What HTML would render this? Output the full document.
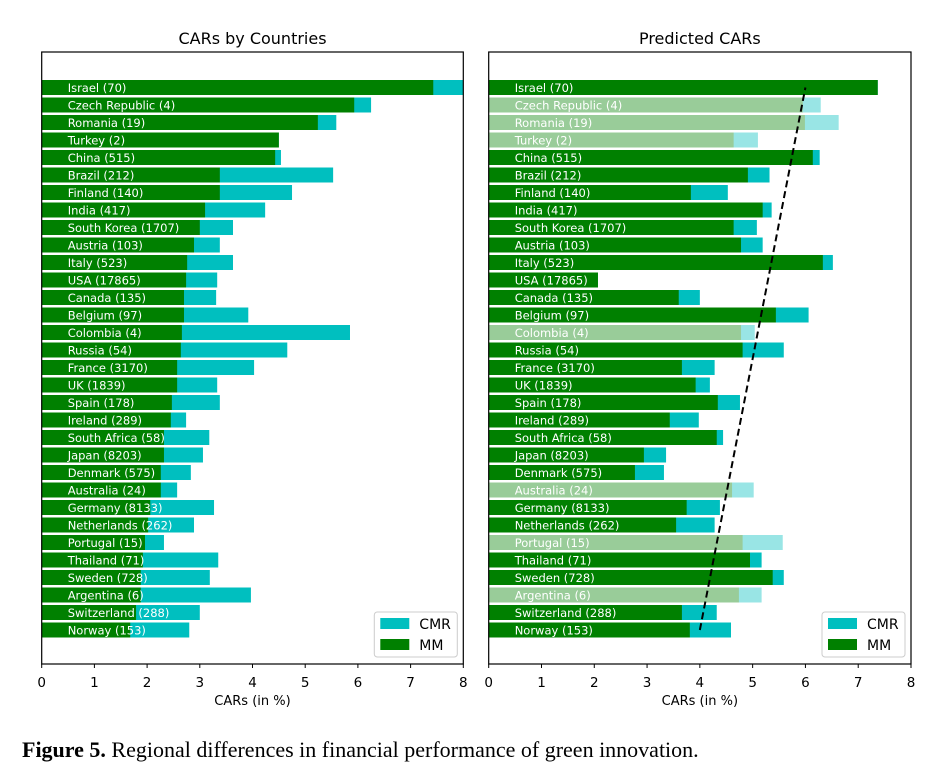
<!DOCTYPE html>
<html><head><meta charset="utf-8"><style>
body{margin:0;background:#fff;width:935px;height:776px;overflow:hidden}
svg{display:block;font-family:"DejaVu Sans","Liberation Sans",sans-serif}
</style></head><body>
<svg id="chart" width="935" height="776" viewBox="0 0 935 776" xmlns="http://www.w3.org/2000/svg">
<text x="22" y="757" font-family="Liberation Serif, serif" font-size="22"><tspan font-weight="bold">Figure 5.</tspan> Regional differences in financial performance of green innovation.</text>
</svg>
<script>
const countries=["Israel (70)","Czech Republic (4)","Romania (19)","Turkey (2)","China (515)","Brazil (212)","Finland (140)","India (417)","South Korea (1707)","Austria (103)","Italy (523)","USA (17865)","Canada (135)","Belgium (97)","Colombia (4)","Russia (54)","France (3170)","UK (1839)","Spain (178)","Ireland (289)","South Africa (58)","Japan (8203)","Denmark (575)","Australia (24)","Germany (8133)","Netherlands (262)","Portugal (15)","Thailand (71)","Sweden (728)","Argentina (6)","Switzerland (288)","Norway (153)"];
const leftMM=[7.43,5.93,5.24,4.50,4.43,3.38,3.38,3.10,3.00,2.89,2.76,2.74,2.70,2.70,2.66,2.64,2.57,2.57,2.47,2.45,2.32,2.32,2.26,2.26,2.06,2.02,1.96,1.92,1.88,1.88,1.79,1.68];
const leftCMR=[8.0,6.25,5.59,4.50,4.54,5.53,4.75,4.24,3.63,3.38,3.63,3.33,3.31,3.92,5.85,4.66,4.03,3.33,3.38,2.74,3.18,3.06,2.83,2.57,3.27,2.89,2.32,3.35,3.19,3.97,3.00,2.80];
const rightMM=[7.37,5.95,5.99,4.64,6.14,4.91,3.83,5.19,4.64,4.78,6.33,2.07,3.60,5.44,4.78,4.81,3.66,3.92,4.34,3.43,4.32,2.94,2.77,4.61,3.75,3.55,4.81,4.95,5.38,4.74,3.66,3.81];
const rightCMR=[7.37,6.29,6.63,5.10,6.27,5.32,4.53,5.36,5.08,5.19,6.52,2.07,4.00,6.06,5.04,5.59,4.28,4.19,4.76,3.98,4.44,3.36,3.32,5.02,4.38,4.28,5.57,5.17,5.59,5.17,4.32,4.59];
const rightFaded=[0,1,1,1,0,0,0,0,0,0,0,0,0,0,1,0,0,0,0,0,0,0,0,1,0,0,1,0,0,1,0,0];
const trendX=[4.0,6.0];
const xTicks=[0,1,2,3,4,5,6,7,8];
const NS="http://www.w3.org/2000/svg";
const svg=document.getElementById('chart');
function mk(tag,attrs,parent){const e=document.createElementNS(NS,tag);for(const k in attrs)e.setAttribute(k,attrs[k]);(parent||svg).appendChild(e);return e;}
const plotTop=52,plotBot=664,row0=87.5,rowStep=17.5,barH=15;
function yRow(i){return row0+i*rowStep;}
function panel(x0,x1,title,mm,cmr,faded,name,trend){
  const g=mk('g',{});
  
  
  const sx=v=>x0+(x1-x0)*v/8;
  const t=mk('text',{x:(x0+x1)/2,y:44,'text-anchor':'middle','font-size':16},g);t.textContent=title;
  
  
  countries.forEach((c,i)=>{
    const f=faded&&faded[i];
    const y=yRow(i)-barH/2;
    const rc=mk('rect',{x:sx(0),y:y,width:Math.max(0,sx(cmr[i])-sx(0)),height:barH,fill:f?'#99e5e5':'#00bfbf'},g);
    
    
    const rm=mk('rect',{x:sx(0),y:y,width:sx(mm[i])-sx(0),height:barH,fill:f?'#99cc99':'#008000'},g);
    
    
    const lt=mk('text',{x:x0+26,y:yRow(i)+4.5,'font-size':11.5,fill:'#fff'},g);lt.textContent=c;
    
    
  });
  if(trend){
    const ln=mk('line',{x1:sx(trend[0]),y1:yRow(31),x2:sx(trend[1]),y2:yRow(0),stroke:'#000','stroke-width':2,'stroke-dasharray':'7,4'},g);
    
    
  }
  const fr=mk('rect',{x:x0,y:plotTop,width:x1-x0,height:plotBot-plotTop,fill:'none',stroke:'#000','stroke-width':1.2},g);
  
  
  xTicks.forEach(v=>{
    mk('line',{x1:sx(v),x2:sx(v),y1:plotBot,y2:plotBot+4,stroke:'#000'},g);
    const tt=mk('text',{x:sx(v),y:plotBot+23,'text-anchor':'middle','font-size':13.5},g);tt.textContent=v;
    
    
  });
  const xl=mk('text',{x:(x0+x1)/2,y:705,'text-anchor':'middle','font-size':13},g);xl.textContent='CARs (in %)';
  
  
  const lg=mk('g',{},g);
  
  
  const lx=x1-89;
  mk('rect',{x:lx,y:612,width:83,height:45,rx:3,fill:'#fff',stroke:'#ccc'},lg);
  mk('rect',{x:lx+6,y:618,width:29,height:11,fill:'#00bfbf'},lg);
  mk('rect',{x:lx+6,y:639,width:29,height:11,fill:'#008000'},lg);
  const a=mk('text',{x:lx+45,y:629,'font-size':14},lg);a.textContent='CMR';
  
  
  const b=mk('text',{x:lx+45,y:650,'font-size':14},lg);b.textContent='MM';
  
  
}
panel(41.7,463.3,'CARs by Countries',leftMM,leftCMR,null,'left-panel',null);
panel(488.7,911,'Predicted CARs',rightMM,rightCMR,rightFaded,'right-panel',trendX);
</script>
</body></html>
